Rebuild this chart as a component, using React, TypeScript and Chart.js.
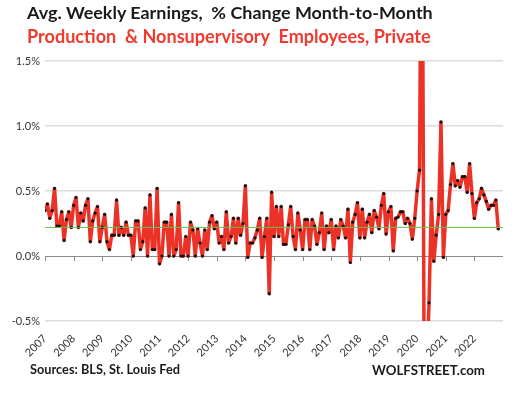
import React, { useEffect, useLayoutEffect, useRef, useState } from "react";
import { Chart, registerables } from "chart.js";

Chart.register(...registerables);

// ---- data ----
const START_YEAR = 2007;
const yearTicks = [2007, 2008, 2009, 2010, 2011, 2012, 2013, 2014, 2015, 2016, 2017, 2018, 2019, 2020, 2021, 2022];
const yTickValues = [-0.5, 0, 0.5, 1.0, 1.5];
const averageChange = 0.22;

const change2007 = [0.35, 0.40, 0.29, 0.35, 0.52, 0.23, 0.23, 0.34, 0.12, 0.28, 0.34, 0.22];
const change2008 = [0.39, 0.45, 0.22, 0.33, 0.27, 0.39, 0.44, 0.11, 0.27, 0.33, 0.38, 0.11];
const change2009 = [0.22, 0.32, 0.11, 0.05, 0.16, 0.16, 0.43, 0.16, 0.22, 0.16, 0.26, 0.16];
const change2010 = [0.16, 0.00, 0.27, 0.27, 0.05, 0.11, 0.37, 0.00, 0.47, 0.05, 0.05, 0.52];
const change2011 = [-0.06, 0.00, 0.26, 0.26, 0.00, 0.32, 0.00, 0.05, 0.41, 0.00, 0.00, 0.15];
const change2012 = [0.00, 0.26, 0.20, 0.00, 0.21, 0.10, 0.00, 0.20, 0.05, 0.26, 0.31, 0.21];
const change2013 = [0.26, 0.10, 0.15, 0.05, 0.34, 0.10, 0.15, 0.29, 0.10, 0.29, 0.16, 0.25];
const change2014 = [0.54, -0.01, 0.10, 0.10, 0.14, 0.20, 0.29, -0.01, 0.15, 0.29, -0.29, 0.49];
const change2015 = [0.15, 0.38, 0.15, 0.38, 0.09, 0.09, 0.24, 0.38, 0.15, 0.05, 0.33, 0.20];
const change2016 = [0.05, 0.28, 0.28, 0.05, 0.28, 0.23, 0.09, 0.18, 0.33, 0.05, 0.23, 0.18];
const change2017 = [0.28, 0.05, 0.23, 0.14, 0.28, 0.23, 0.14, 0.36, -0.05, 0.26, 0.32, 0.41];
const change2018 = [0.14, 0.36, 0.14, 0.26, 0.32, 0.18, 0.35, 0.30, 0.21, 0.39, 0.48, 0.17];
const change2019 = [0.34, 0.38, 0.04, 0.29, 0.30, 0.34, 0.34, 0.25, 0.29, 0.25, 0.13, 0.29];
const change2020 = [0.50, 0.66, 3.5, -1.2, -0.9, -0.36, 0.44, -0.04, 0.16, 0.32, 1.03, -0.01];
const change2021 = [0.32, 0.35, 0.55, 0.71, 0.54, 0.58, 0.53, 0.61, 0.61, 0.49, 0.71, 0.48];
const change2022 = [0.29, 0.41, 0.44, 0.52, 0.47, 0.42, 0.36, 0.39, 0.39, 0.43, 0.21];

const yearlySeries = [
  change2007, change2008, change2009, change2010, change2011, change2012, change2013, change2014,
  change2015, change2016, change2017, change2018, change2019, change2020, change2021, change2022,
];

const FONT = "Lato, 'Open Sans', sans-serif";

function FitText(props: { text: string; left: number; top: number; width: number; size: number; color: string }) {
  const ref = useRef<HTMLDivElement | null>(null);
  const [fs, setFs] = useState(props.size);
  const tries = useRef(0);
  useLayoutEffect(() => {
    const el = ref.current;
    if (!el || tries.current > 4) return;
    const w = el.getBoundingClientRect().width;
    if (w > 0 && Math.abs(w - props.width) > 0.5) {
      tries.current += 1;
      setFs((f) => (f * props.width) / w);
    }
  }, [fs]);
  return (
    <div
      ref={ref}
      style={{
        position: "absolute",
        left: props.left,
        top: props.top,
        fontFamily: FONT,
        fontWeight: 700,
        fontSize: fs,
        lineHeight: 1.2,
        color: props.color,
        whiteSpace: "pre",
      }}
    >
      {props.text}
    </div>
  );
}

export default function App() {
  const canvasRef = useRef<HTMLCanvasElement | null>(null);

  useEffect(() => {
    if (!canvasRef.current) return;
    const points: { x: number; y: number }[] = [];
    yearlySeries.forEach((arr, yi) => {
      arr.forEach((v, m) => points.push({ x: START_YEAR + yi + m / 12, y: v }));
    });
    const lastYear = yearTicks[yearTicks.length - 1] + 1;

    const zeroTicks = {
      id: "zeroTicks",
      beforeDatasetsDraw(chart: any) {
        const { ctx, scales } = chart;
        const x = scales.x;
        const y = scales.y;
        const y0 = Math.round(y.getPixelForValue(0));
        ctx.save();
        ctx.strokeStyle = "#8c8c8c";
        ctx.lineWidth = 1;
        yearTicks.forEach((yr) => {
          const px = Math.round(x.getPixelForValue(yr)) + 0.5;
          ctx.beginPath();
          ctx.moveTo(px, y0);
          ctx.lineTo(px, y0 + 5);
          ctx.stroke();
        });
        ctx.restore();
      },
    };

    const chart = new Chart(canvasRef.current, {
      type: "line",
      data: {
        datasets: [
          {
            data: [
              { x: START_YEAR, y: averageChange },
              { x: lastYear, y: averageChange },
            ],
            borderColor: "#6cbf4e",
            borderWidth: 1,
            pointRadius: 0,
            tension: 0,
          },
          {
            data: points,
            borderColor: "#ec3226",
            borderWidth: 3.5,
            borderJoinStyle: "round",
            borderCapStyle: "round",
            pointRadius: 1.6,
            pointBorderWidth: 0,
            pointBackgroundColor: "#111",
            tension: 0,
            clip: 0,
          } as any,
        ],
      },
      options: {
        responsive: false,
        animation: false,
        layout: { padding: { top: 61, left: 0, right: 26, bottom: 0 } },
        plugins: { legend: { display: false }, title: { display: false }, tooltip: { enabled: false } },
        scales: {
          x: {
            type: "linear",
            min: START_YEAR,
            max: lastYear,
            afterBuildTicks: (scale: any) => {
              scale.ticks = yearTicks.map((v) => ({ value: v }));
            },
            afterFit: (scale: any) => {
              scale.height = 76;
            },
            grid: { display: false, drawTicks: false },
            border: { display: false },
            ticks: {
              autoSkip: false,
              maxRotation: 45,
              minRotation: 45,
              padding: 11,
              color: "#333",
              font: { family: FONT, size: 11 },
              callback: (v: any) => String(v),
            },
          },
          y: {
            min: -0.5,
            max: 1.5,
            afterBuildTicks: (scale: any) => {
              scale.ticks = yTickValues.map((v) => ({ value: v }));
            },
            afterFit: (scale: any) => {
              scale.width = 45;
            },
            grid: {
              drawTicks: false,
              color: (ctx: any) => (ctx.tick && ctx.tick.value === 0 ? "#8c8c8c" : "#dcdcdc"),
              lineWidth: (ctx: any) => (ctx.tick && ctx.tick.value === 0 ? 1 : 1.5),
            },
            border: { display: false },
            ticks: {
              padding: 5,
              color: "#333",
              font: { family: FONT, size: 11 },
              callback: (v: any) => Number(v).toFixed(1) + "%",
            },
          },
        },
      },
      plugins: [zeroTicks],
    });
    return () => chart.destroy();
  }, []);

  return (
    <div style={{ position: "fixed", left: 0, top: 0, width: 529, height: 397, background: "#fff", overflow: "hidden" }}>
      <canvas ref={canvasRef} width={529} height={397} style={{ position: "absolute", left: 0, top: 0 }} />
      <FitText text={"Avg. Weekly Earnings,  % Change Month-to-Month"} left={27} top={2} width={406} size={18} color="#1a1a1a" />
      <FitText text={"Production  & Nonsupervisory  Employees, Private"} left={27} top={26} width={404} size={17} color="#f03a2e" />
      <FitText text={"Sources: BLS, St. Louis Fed"} left={30} top={362} width={150} size={14} color="#1a1a1a" />
      <FitText text={"WOLFSTREET.com"} left={372} top={363} width={113} size={13} color="#1a1a1a" />
    </div>
  );
}
